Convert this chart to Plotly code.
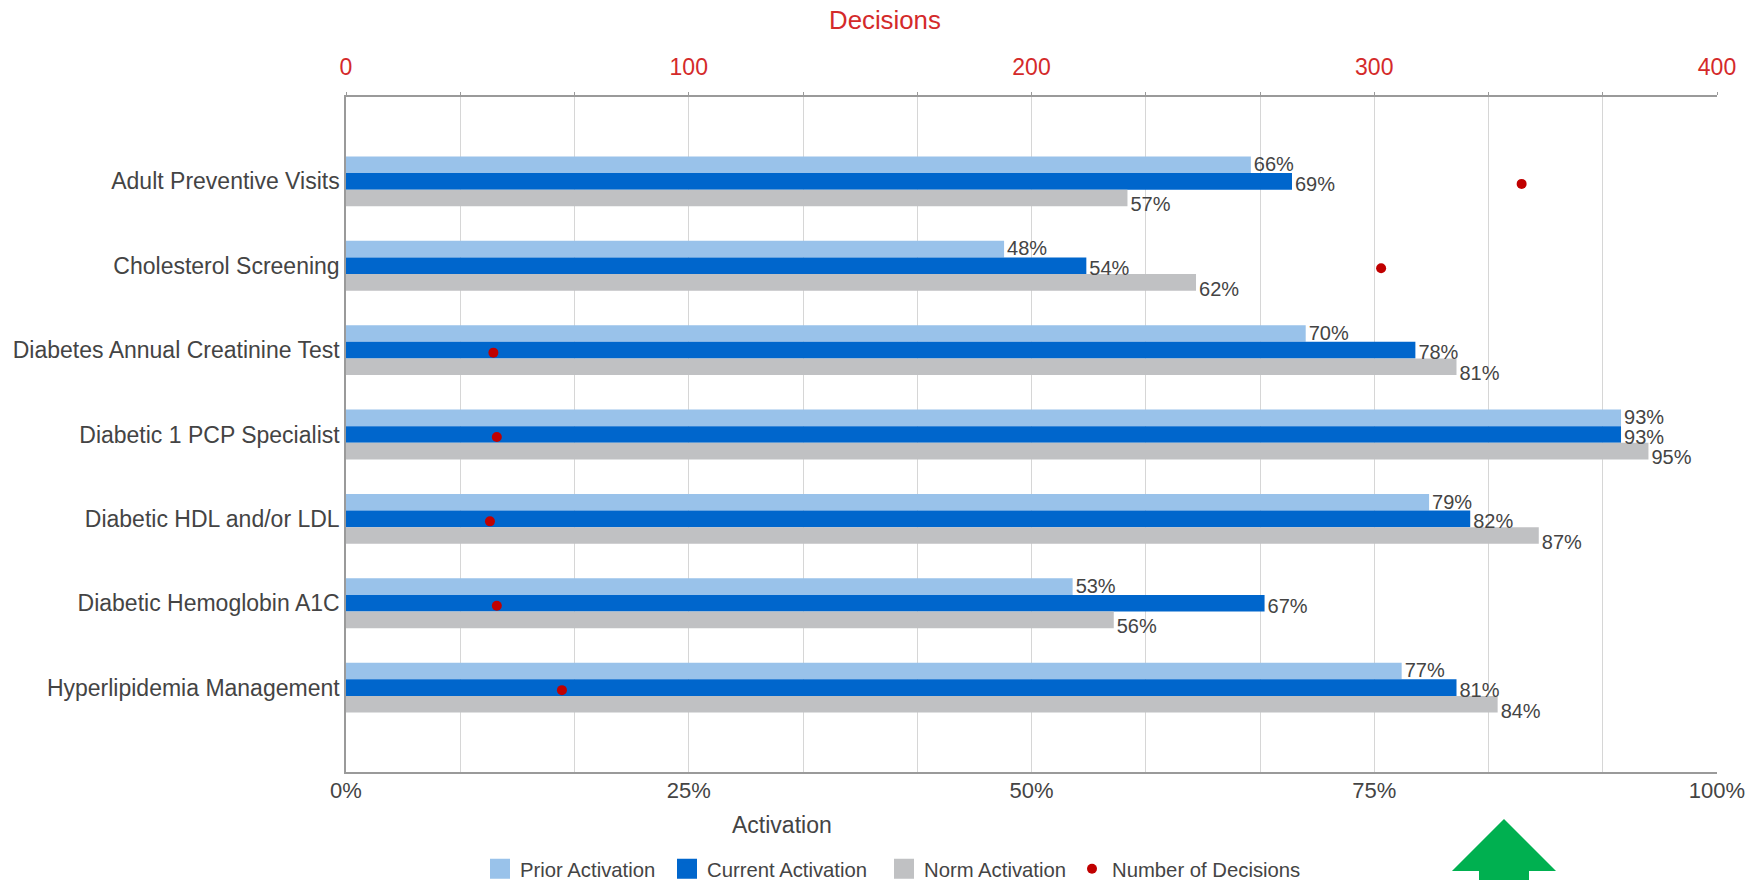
import plotly.graph_objects as go

# ---- data -------------------------------------------------------------
categories = [
    "Adult Preventive Visits",
    "Cholesterol Screening",
    "Diabetes Annual Creatinine Test",
    "Diabetic 1 PCP Specialist",
    "Diabetic HDL and/or LDL",
    "Diabetic Hemoglobin A1C",
    "Hyperlipidemia Management",
]
prior_activation = [66, 48, 70, 93, 79, 53, 77]
current_activation = [69, 54, 78, 93, 82, 67, 81]
norm_activation = [57, 62, 81, 95, 87, 56, 84]
number_of_decisions = [343, 302, 43, 44, 42, 44, 63]

pct_ticks = [0, 25, 50, 75, 100]
pct_tick_text = ["0%", "25%", "50%", "75%", "100%"]
decision_ticks = [0, 100, 200, 300, 400]

# ---- styling ----------------------------------------------------------
W, H = 1746, 880
L, R, T, B = 346, 1717, 97, 772          # plot area in pixels
ROW_PX = (B - T) / 8                       # pixels per category step
PCT_PER_PX = 100 / (R - L)                 # percent axis units per pixel
FONT = "Liberation Sans, Arial, sans-serif"
TEXT = "#444444"
RED_TEXT = "#d42a2a"
AXIS = "#9a9a9a"
GRID = "#d6d6d6"
C_PRIOR, C_CURRENT, C_NORM, C_DOT = "#99c2ea", "#0066cc", "#c0c1c3", "#c00000"
BARGAP = 0.408
BAR_W = (1 - BARGAP) / 3                   # one bar, in category units
LABEL_PAD = 3                              # px between bar end and its label


def px(x):
    return (x - L) / (R - L)


def py(y):
    return (B - y) / (B - T)


idx = list(range(len(categories)))
fig = go.Figure()

series = [
    ("Prior Activation", prior_activation, C_PRIOR, -BAR_W, 1.3),
    ("Current Activation", current_activation, C_CURRENT, 0.0, 4.3),
    ("Norm Activation", norm_activation, C_NORM, BAR_W, 8.3),
]
for name, vals, col, _, _ in series:
    fig.add_trace(go.Bar(
        name=name, x=vals, y=idx, orientation="h",
        marker=dict(color=col, line=dict(width=0)),
        showlegend=False, hoverinfo="skip",
    ))

# value labels at the end of each bar
for name, vals, col, off, nudge in series:
    fig.add_trace(go.Scatter(
        x=[v + LABEL_PAD * PCT_PER_PX for v in vals],
        y=[i + off + nudge / ROW_PX for i in idx],
        mode="text", text=[f"{v}%" for v in vals],
        textposition="middle right",
        textfont=dict(size=20, color=TEXT, family=FONT),
        showlegend=False, hoverinfo="skip", cliponaxis=False,
    ))

fig.add_trace(go.Scatter(
    name="Number of Decisions", x=number_of_decisions,
    y=[i + 2.5 / ROW_PX for i in idx],
    xaxis="x2", mode="markers",
    marker=dict(color=C_DOT, size=10),
    showlegend=False, cliponaxis=False,
))

# legend entries with larger square swatches (widths fix the item spacing)
for name, col, lw in [
    ("Prior Activation", C_PRIOR, 142),
    ("Current Activation", C_CURRENT, 172),
    ("Norm Activation", C_NORM, 143),
]:
    fig.add_trace(go.Scatter(
        name=name, x=[None], y=[None], mode="markers",
        marker=dict(symbol="square", size=16, color=col,
                    line=dict(color=col, width=4)),
        showlegend=True, legendwidth=lw,
    ))
fig.add_trace(go.Scatter(
    name="Number of Decisions", x=[None], y=[None], mode="markers",
    marker=dict(color=C_DOT, size=10), showlegend=True, legendwidth=195,
))

# green arrow below the chart
arrow = [(1504, 819), (1556, 871), (1529, 871), (1529, 895),
         (1479, 895), (1479, 871), (1452, 871)]
path = "M " + " L ".join(f"{px(x):.5f},{py(y):.5f}" for x, y in arrow) + " Z"

fig.update_layout(
    width=W, height=H,
    margin=dict(l=L, r=W - R, t=T, b=H - B, pad=0, autoexpand=False),
    paper_bgcolor="white", plot_bgcolor="white",
    font=dict(family=FONT, color=TEXT),
    barmode="group", bargap=BARGAP, bargroupgap=0,
    xaxis=dict(
        range=[0, 100], tickmode="array", tickvals=pct_ticks, ticktext=pct_tick_text,
        showgrid=False, zeroline=False, showline=True, linecolor=AXIS, linewidth=1.5,
        ticks="", tickfont=dict(size=22, color=TEXT), ticklabelstandoff=-2,
        fixedrange=True, automargin=False,
    ),
    xaxis2=dict(
        overlaying="x", side="top", anchor="y",
        range=[0, 400], tickmode="array", tickvals=decision_ticks,
        showgrid=True, gridcolor=GRID, gridwidth=1.2,
        minor=dict(dtick=100 / 3, tick0=0, showgrid=True, gridcolor=GRID, gridwidth=1.2,
                   ticks="outside", ticklen=3, tickcolor=AXIS),
        ticks="outside", ticklen=3, tickcolor=AXIS,
        zeroline=False, showline=True, linecolor=AXIS, linewidth=1.5,
        tickfont=dict(size=23, color=RED_TEXT), ticklabelstandoff=8,
        fixedrange=True, automargin=False,
    ),
    yaxis=dict(
        range=[7, -1], tickmode="array", tickvals=idx, ticktext=categories,
        showgrid=False, zeroline=False,
        showline=True, linecolor=AXIS, linewidth=1.5, ticks="",
        tickfont=dict(size=23, color=TEXT), ticklabelstandoff=0,
        fixedrange=True, automargin=False,
    ),
    legend=dict(
        orientation="h", x=px(480), xanchor="left", y=py(869), yanchor="middle",
        font=dict(size=20.3, color=TEXT), bgcolor="rgba(0,0,0,0)",
        itemclick=False, itemdoubleclick=False,
    ),
    annotations=[
        dict(text="Activation", x=px(782), y=py(825), xref="paper", yref="paper",
             xanchor="center", yanchor="middle",
             showarrow=False, font=dict(size=23, color=TEXT)),
        dict(text="Decisions", x=px(885), y=py(20), xref="paper", yref="paper",
             xanchor="center", yanchor="middle",
             showarrow=False, font=dict(size=25.8, color=RED_TEXT)),
    ],
    shapes=[dict(type="path", path=path, xref="paper", yref="paper",
                 fillcolor="#00b050", line=dict(width=0), layer="above")],
)

fig.write_html("out.html", config={"displayModeBar": False})
